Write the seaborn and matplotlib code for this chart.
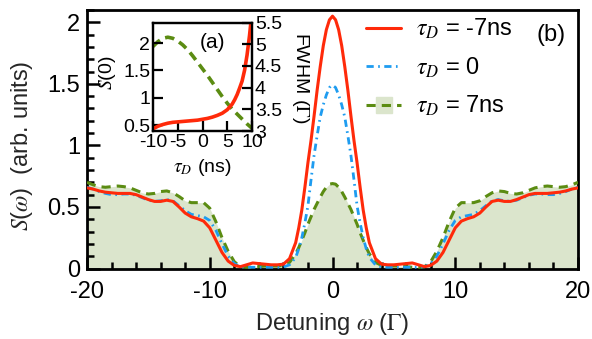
import numpy as np
import pandas as pd
import seaborn as sns
import matplotlib.pyplot as plt
from matplotlib.lines import Line2D
from matplotlib.ticker import MultipleLocator

# detuning grid (finer around the central peak)
omega = np.concatenate([np.arange(-20, -3, 0.5), np.arange(-3, 3.25, 0.25), np.arange(3.5, 20.5, 0.5)])

# spectra S(omega) for the three delays
s_minus7 = [0.655, 0.645, 0.63, 0.62, 0.615, 0.61, 0.61, 0.61, 0.60, 0.58, 0.56, 0.545, 0.545, 0.555, 0.545, 0.50,
            0.45, 0.42, 0.405, 0.385, 0.33, 0.23, 0.13, 0.06, 0.025, 0.015, 0.03, 0.045, 0.04, 0.035, 0.03, 0.03, 0.035, 0.08,
            0.21, 0.33, 0.475, 0.66, 0.86, 1.04, 1.24, 1.45, 1.64, 1.81, 1.94, 2.02, 2.05, 2.02, 1.94, 1.81, 1.64, 1.45,
            1.24, 1.04, 0.86, 0.66, 0.475, 0.33, 0.21,
            0.08, 0.035, 0.03, 0.03, 0.035, 0.04, 0.045, 0.03, 0.015, 0.025, 0.06, 0.13, 0.23, 0.33, 0.385, 0.405, 0.42,
            0.45, 0.50, 0.545, 0.555, 0.545, 0.545, 0.56, 0.58, 0.60, 0.61, 0.61, 0.61, 0.615, 0.62, 0.63, 0.645, 0.655]
s_zero = [0.66, 0.645, 0.625, 0.61, 0.60, 0.60, 0.605, 0.605, 0.595, 0.575, 0.555, 0.545, 0.55, 0.56, 0.55, 0.51,
          0.47, 0.44, 0.43, 0.42, 0.39, 0.31, 0.20, 0.10, 0.04, 0.015, 0.01, 0.01, 0.01, 0.01, 0.01, 0.01, 0.012, 0.03,
          0.09, 0.16, 0.25, 0.37, 0.51, 0.72, 0.92, 1.08, 1.23, 1.33, 1.41, 1.47, 1.49, 1.47, 1.41, 1.33, 1.23, 1.08,
          0.92, 0.72, 0.51, 0.37, 0.25, 0.16, 0.09,
          0.03, 0.012, 0.01, 0.01, 0.01, 0.01, 0.01, 0.01, 0.015, 0.04, 0.10, 0.20, 0.31, 0.39, 0.42, 0.43, 0.44,
          0.47, 0.51, 0.55, 0.56, 0.55, 0.545, 0.555, 0.575, 0.595, 0.605, 0.605, 0.60, 0.60, 0.61, 0.625, 0.645, 0.66]
s_plus7 = [0.70, 0.68, 0.665, 0.66, 0.665, 0.67, 0.665, 0.655, 0.635, 0.615, 0.605, 0.61, 0.625, 0.63, 0.615, 0.585,
           0.55, 0.535, 0.535, 0.535, 0.49, 0.38, 0.25, 0.14, 0.055, 0.015, 0.01, 0.01, 0.015, 0.02, 0.02, 0.02, 0.025, 0.05,
           0.12, 0.17, 0.23, 0.29, 0.36, 0.42, 0.48, 0.53, 0.58, 0.625, 0.66, 0.685, 0.69, 0.685, 0.66, 0.625, 0.58, 0.53,
           0.48, 0.42, 0.36, 0.29, 0.23, 0.17, 0.12,
           0.05, 0.025, 0.02, 0.02, 0.02, 0.015, 0.01, 0.01, 0.015, 0.055, 0.14, 0.25, 0.38, 0.49, 0.535, 0.535, 0.535,
           0.55, 0.585, 0.615, 0.63, 0.625, 0.61, 0.605, 0.615, 0.635, 0.655, 0.665, 0.67, 0.665, 0.66, 0.665, 0.68, 0.70]

# inset (a): S(0) and FWHM vs delay
tau = [-10, -9, -8, -7, -6, -5, -4, -3, -2, -1, 0, 1, 2, 3, 4, 5, 6, 7, 8, 9, 10]
s0 = [1.94, 2.03, 2.09, 2.11, 2.09, 2.04, 1.97, 1.88, 1.77, 1.65, 1.53, 1.41, 1.28, 1.15, 1.02, 0.90, 0.79, 0.70,
      0.61, 0.52, 0.44]
tau_w = [-10, -9, -8, -7, -6, -5, -4, -3, -2, -1, 0, 1, 2, 3, 4, 5, 6, 6.5, 7, 7.5, 8, 8.5, 9, 9.5, 10]
fwhm = [3.05, 3.11, 3.15, 3.18, 3.20, 3.21, 3.22, 3.23, 3.24, 3.25, 3.27, 3.29, 3.32, 3.36, 3.41, 3.49, 3.62, 3.72,
        3.84, 3.99, 4.15, 4.40, 4.75, 5.20, 5.75]

labels = [r'$\tau_D$ = -7ns', r'$\tau_D$ = 0', r'$\tau_D$ = 7ns']
RED, BLUE, GREEN, FILL = '#ff2a0a', '#1e9cf0', '#5b8c12', '#dbe5cc'
FS, FS_IN = 17, 14

sns.set_style('ticks')
plt.rcParams['font.family'] = ['Liberation Sans', 'DejaVu Sans']
plt.rcParams['mathtext.fontset'] = 'stix'
plt.rcParams['axes.unicode_minus'] = False
plt.rcParams['xtick.direction'] = 'in'
plt.rcParams['ytick.direction'] = 'in'
plt.rcParams['xtick.color'] = 'black'
plt.rcParams['ytick.color'] = 'black'
plt.rcParams['axes.edgecolor'] = 'black'
plt.rcParams['text.color'] = 'black'
plt.rcParams['axes.axisbelow'] = False

df = pd.DataFrame({'omega': omega, 'm7': s_minus7, 'z': s_zero, 'p7': s_plus7})

fig = plt.figure(figsize=(5.92, 3.39), dpi=100)
ax = fig.add_axes([87 / 592, 1 - 268.5 / 339, (578 - 87) / 592, (268.5 - 10) / 339])

ax.fill_between(df['omega'], 0, df['p7'], color=FILL, lw=0, zorder=1)
sns.lineplot(data=df, x='omega', y='p7', ax=ax, color=GREEN, lw=2.2, zorder=3)
ax.lines[-1].set_dashes((3, 2))
sns.lineplot(data=df, x='omega', y='z', ax=ax, color=BLUE, lw=2.0, zorder=4)
ax.lines[-1].set_dashes((2.6, 1.6, 0.6, 1.6))
sns.lineplot(data=df, x='omega', y='m7', ax=ax, color=RED, lw=2.2, zorder=5)

ax.set_xlim(-20, 20)
ax.set_ylim(0, 2.1)
ax.xaxis.set_major_locator(MultipleLocator(10))
ax.xaxis.set_minor_locator(MultipleLocator(2))
ax.set_yticks([0, 0.5, 1, 1.5, 2], ['0', '0.5', '1', '1.5', '2'])
ax.yaxis.set_minor_locator(MultipleLocator(0.1))
ax.tick_params(which='both', direction='in', width=1.8, labelsize=FS, top=False, right=False)
ax.tick_params(which='major', length=9)
ax.tick_params(which='minor', length=5)
ax.tick_params(axis='x', which='major', pad=9)
ax.tick_params(axis='y', which='major', pad=5)
for sp in ax.spines.values():
    sp.set_linewidth(2.0)
    sp.set_visible(True)
ax.set_xlabel(r'Detuning $\omega$ ($\Gamma$)', fontsize=FS)
ax.set_ylabel(r'$S$($\omega$)  (arb. units)', fontsize=FS)
ax.xaxis.set_label_coords(0.5, -0.166)
ax.yaxis.set_label_coords(-0.106, 0.474)

handles = [Line2D([], [], color=RED, lw=2.2),
           Line2D([], [], color=BLUE, lw=2.0, dashes=(2.6, 1.6, 0.6, 1.6)),
           (Line2D([], [], color=FILL, marker='s', ms=11, ls='none'),
            Line2D([], [], color=GREEN, lw=2.2, dashes=(3, 2)))]
ax.legend(handles, labels, loc='upper left', bbox_to_anchor=(366 / 592, 1 - 17 / 339),
          bbox_transform=fig.transFigure, frameon=False, fontsize=FS, borderpad=0, borderaxespad=0,
          handlelength=1.5, handletextpad=0.6, labelspacing=0.6)
fig.text(551 / 592, 1 - 35 / 339, '(b)', fontsize=FS, ha='center', va='center')

# inset (a)
ins = fig.add_axes([153 / 592, 1 - 131 / 339, 99 / 592, 108.5 / 339])
ins.set_facecolor('white')
ins_r = ins.twinx()
sns.lineplot(x=tau, y=s0, ax=ins, color=GREEN, lw=2.6)
ins.lines[-1].set_dashes((2.6, 1.6))
sns.lineplot(x=tau_w, y=fwhm, ax=ins_r, color=RED, lw=2.6)
ins.set_xlim(-10, 10)
ins.set_ylim(0.39, 2.38)
ins_r.set_ylim(3, 5.5)
ins.set_xticks([-10, -5, 0, 5, 10], ['-10', '-5', '0', '5', '10'])
ins.set_yticks([0.5, 1, 1.5, 2], ['0.5', '1', '1.5', '2'])
ins_r.set_yticks([3, 3.5, 4, 4.5, 5, 5.5], ['3', '3.5', '4', '4.5', '5', '5.5'])
for a in (ins, ins_r):
    a.tick_params(direction='in', length=7, width=1.6, labelsize=FS_IN, pad=2)
    a.set_xlabel('')
    a.set_ylabel('')
    for sp in a.spines.values():
        sp.set_linewidth(1.6)
        sp.set_visible(True)
fig.text(202 / 592, 1 - 168 / 339, r'$\tau_D$ (ns)', fontsize=FS_IN, ha='center', va='center')
fig.text(108 / 592, 1 - 73 / 339, r'$S$(0)', fontsize=FS_IN, ha='center', va='center', rotation=90)
fig.text(300 / 592, 1 - 78 / 339, r'FWHM ($\Gamma$)', fontsize=FS_IN, ha='center', va='center', rotation=270)
ins.text(0.6, 0.82, '(a)', transform=ins.transAxes, fontsize=15, ha='center', va='center')

fig.savefig('out.png', dpi=100)
